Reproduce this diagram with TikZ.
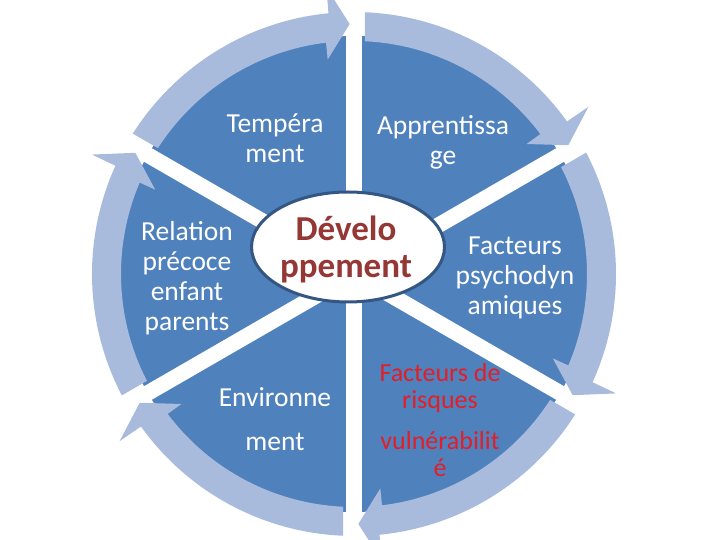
\documentclass[tikz,border=0pt]{standalone}
\usepackage{fontspec}
\setmainfont{Carlito}
\usetikzlibrary{shapes.geometric}
\definecolor{secblue}{RGB}{79,129,189}
\definecolor{bandblue}{RGB}{168,187,220}
\definecolor{ellborder}{RGB}{52,86,130}
\definecolor{devred}{RGB}{149,55,53}
\definecolor{riskred}{RGB}{226,30,40}
\tikzset{
  sectext/.style={text=white, align=center, inner sep=0pt, font=\fontsize{27.5}{30}\selectfont},
  risktext/.style={text=riskred, align=center, inner sep=0pt, font=\fontsize{26}{27}\selectfont},
  gapline/.style={white, line width=15.6},
  bandarrow/.style={fill=bandblue, draw=none},
  centerell/.style={ellipse, draw=ellborder, line width=3, fill=white, minimum width=193, minimum height=110, inner sep=0pt},
  centertext/.style={align=center, inner sep=0pt, text=devred, font=\bfseries\fontsize{35}{37}\selectfont}
}
\begin{document}
\begin{tikzpicture}[x=1pt,y=1pt]
\useasboundingbox (0,0) rectangle (720,540);
\clip (0,0) rectangle (720,540);
\coordinate (C) at (354,266);
\begin{scope}[shift={(C)}]
  \fill[secblue] (0,0) circle[radius=238];
  \foreach \g in {90,30,-30,-90,-150,150} {
    \draw[gapline] (0,0) -- (\g:250);
  }
  \foreach \g in {90,30,-30,-90,-150,150} {
    \pgfmathsetmacro{\t}{\g-59}
    \pgfmathsetmacro{\so}{\g-2.4}
    \pgfmathsetmacro{\si}{\g-2.7}
    \pgfmathsetmacro{\bo}{\t+4.6}
    \pgfmathsetmacro{\bi}{\t+5.9}
    \pgfmathsetmacro{\ho}{\t+4.5}
    \pgfmathsetmacro{\hi}{\t+6}
    \fill[bandarrow] (\so:262) arc[start angle=\so, end angle=\bo, radius=262]
      -- (\ho:288) -- (\t:250) -- (\hi:216) -- (\bi:233)
      arc[start angle=\bi, end angle=\si, radius=233] -- cycle;
  }
\end{scope}
\node[centerell] (dev) at (348,293) {};
\node[centertext] (devtext) at (346,291) {Dévelo\\ppement};
\node[sectext] (temp) at (275,402) {Tempéra\\ment};
\node[sectext] (appr) at (443,398) {Apprentissa\\ge};
\node[sectext] (rel) at (187,262) {Relation\\précoce\\enfant\\parents};
\node[sectext] (fact) at (515,262) {Facteurs\\psychodyn\\amiques};
\node[sectext] (env) at (275,121) {Environne\\[14pt]ment};
\node[risktext] (risk) at (440,120) {Facteurs de\\risques\\[14pt]vulnérabilit\\é};
\end{tikzpicture}
\end{document}
